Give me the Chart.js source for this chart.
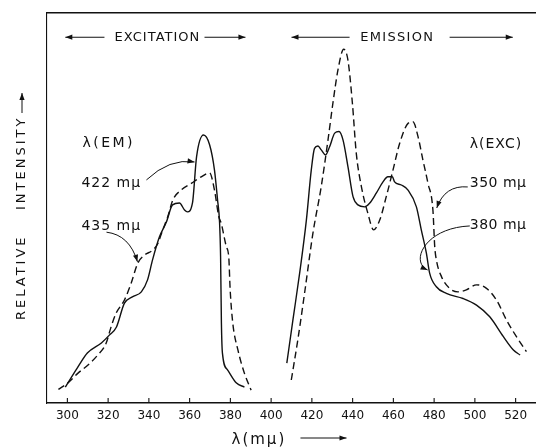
<!DOCTYPE html>
<html>
<head>
<meta charset="utf-8">
<script src="https://cdn.jsdelivr.net/npm/chart.js@4"></script>
<style>
  body { margin: 0; background: #fff; }
</style>
</head>
<body>
<canvas id="spectra" width="536" height="447"></canvas>
<script>
// wavelength axis (mµ)
const xTicks = [300, 320, 340, 360, 380, 400, 420, 440, 460, 480, 500, 520];

// excitation spectra, λ(EM) = 422 mµ (solid) and 435 mµ (dashed)
const excSolidX = [299.0, 304.9, 309.8, 316.7, 320.6, 324.1, 328.0, 331.9, 336.3, 339.3, 341.8, 345.2, 348.6, 351.6, 355.0, 357.5, 358.9, 361.4, 363.4, 366.8, 369.8, 372.2, 373.7, 374.7, 375.2, 375.6, 376.1, 378.6, 383.0, 386.9];
const excSolidY = [4.1, 9.0, 12.8, 15.4, 17.4, 19.5, 25.6, 27.2, 28.5, 31.5, 36.7, 42.6, 46.4, 50.8, 51.3, 49.5, 49.0, 51.3, 63.1, 68.7, 66.2, 59.7, 52.1, 46.2, 37.4, 20.5, 12.8, 8.5, 5.1, 4.1];
const excDashX = [295.6, 300.1, 305.1, 310.0, 314.9, 319.0, 321.5, 323.9, 328.0, 331.3, 334.5, 337.8, 341.9, 344.4, 346.8, 349.3, 351.7, 355.8, 360.8, 365.7, 369.8, 372.2, 374.3, 375.5, 378.0, 379.2, 379.9, 381.2, 383.7, 386.9, 390.2];
const excDashY = [3.5, 5.1, 7.6, 9.7, 12.3, 15.3, 19.6, 23.0, 26.4, 30.7, 35.8, 37.9, 39.2, 40.9, 44.4, 47.8, 52.0, 54.6, 56.3, 58.0, 59.0, 54.6, 47.8, 46.1, 40.1, 37.5, 29.0, 20.4, 13.6, 7.6, 3.3];

// emission spectra, λ(EXC) = 380 mµ (solid) and 350 mµ (dashed)
const emSolidX = [407.7, 410.7, 414.0, 417.3, 419.7, 421.3, 423.0, 424.6, 426.7, 428.7, 431.2, 433.3, 435.3, 437.7, 440.2, 442.6, 445.9, 448.3, 451.6, 454.9, 457.3, 459.5, 460.6, 463.9, 467.2, 471.3, 473.7, 476.2, 477.8, 481.1, 486.0, 494.2, 500.8, 507.3, 514.0, 518.9, 522.2];
const emSolidY = [10.2, 21.3, 33.3, 46.9, 59.7, 65.3, 65.9, 64.9, 63.6, 65.7, 69.2, 69.6, 67.4, 60.6, 52.9, 50.8, 50.3, 51.2, 53.8, 56.7, 58.0, 58.0, 56.7, 55.9, 54.6, 50.3, 44.4, 38.4, 33.3, 29.8, 28.1, 26.8, 25.1, 22.1, 17.0, 13.6, 12.3];
const emDashX = [409.9, 413.1, 416.4, 420.5, 424.6, 427.9, 430.3, 432.8, 435.6, 437.7, 439.9, 441.8, 444.3, 447.5, 450.3, 453.3, 456.5, 459.8, 463.1, 467.2, 469.6, 472.1, 474.5, 477.0, 479.4, 480.3, 481.1, 483.6, 487.6, 491.7, 495.8, 500.8, 505.7, 510.6, 515.5, 520.4, 525.3];
const emDashY = [5.9, 16.2, 28.1, 43.5, 55.5, 67.4, 76.8, 85.4, 90.7, 87.9, 76.8, 64.0, 55.5, 48.6, 44.4, 46.9, 52.9, 59.7, 66.6, 71.7, 72.1, 68.3, 62.3, 56.3, 49.5, 40.1, 36.7, 32.4, 29.4, 28.5, 29.0, 30.3, 29.4, 26.4, 21.3, 17.0, 13.2];

const INK = '#111';
const FONT = '"DejaVu Sans", sans-serif';

const pairs = (xs, ys) => xs.map((x, i) => ({ x: x, y: ys[i] }));

function trace(label, xs, ys, dashed) {
    return {
        label: label,
        data: pairs(xs, ys),
        borderColor: INK,
        borderWidth: 1.4,
        borderDash: dashed ? [7, 4] : [],
        pointRadius: 0,
        fill: false,
        cubicInterpolationMode: 'monotone'
    };
}

function head(ctx, x, y, ang, len, half) {
    ctx.beginPath();
    ctx.moveTo(x, y);
    ctx.lineTo(x - len * Math.cos(ang) - half * Math.sin(ang), y - len * Math.sin(ang) + half * Math.cos(ang));
    ctx.lineTo(x - len * Math.cos(ang) + half * Math.sin(ang), y - len * Math.sin(ang) - half * Math.cos(ang));
    ctx.closePath();
    ctx.fill();
}

function arrow(ctx, x1, y1, x2, y2) {
    ctx.beginPath();
    ctx.moveTo(x1, y1);
    ctx.lineTo(x2, y2);
    ctx.stroke();
    head(ctx, x2, y2, Math.atan2(y2 - y1, x2 - x1), 7, 2.6);
}

function text(ctx, s, x, y, size, spacing, align) {
    ctx.font = size + 'px ' + FONT;
    ctx.letterSpacing = spacing + 'px';
    ctx.textAlign = align || 'left';
    ctx.textBaseline = 'middle';
    ctx.fillText(s, x, y);
}

// inward ticks, headings, callouts and axis titles
const decorations = {
    id: 'decorations',
    afterDraw(chart) {
        const ctx = chart.ctx;
        const area = chart.chartArea;
        const px = v => chart.scales.x.getPixelForValue(v);
        const py = v => chart.scales.y.getPixelForValue(v);
        ctx.save();
        ctx.strokeStyle = INK;
        ctx.fillStyle = INK;
        ctx.lineWidth = 1.1;

        xTicks.forEach(t => {
            ctx.beginPath();
            ctx.moveTo(px(t), area.bottom);
            ctx.lineTo(px(t), area.bottom - 5);
            ctx.stroke();
        });

        // section headings
        const hy = py(93.8);
        text(ctx, 'EXCITATION', px(344.2), hy, 13, 1, 'center');
        arrow(ctx, px(318.2), hy, px(299.0), hy);
        arrow(ctx, px(367.3), hy, px(387.4), hy);
        text(ctx, 'EMISSION', px(461.9), hy, 13, 1.3, 'center');
        arrow(ctx, px(438.5), hy, px(410.0), hy);
        arrow(ctx, px(487.6), hy, px(518.6), hy);

        // left callouts
        text(ctx, 'λ(EM)', px(307.4), py(66.7), 14, 2.5);
        text(ctx, '422 mµ', px(306.9), py(56.4), 14, 1);
        text(ctx, '435 mµ', px(306.9), py(45.4), 14, 1);
        // right callouts
        text(ctx, 'λ(EXC)', px(497.5), py(66.2), 14, 1);
        text(ctx, '350 mµ', px(497.5), py(56.4), 14, 0.5);
        text(ctx, '380 mµ', px(497.5), py(45.6), 14, 0.5);

        ctx.lineWidth = 1;
        // 422 -> solid excitation peak
        let c = [px(350.1), py(62.8)], e = [px(362.4), py(61.8)];
        ctx.beginPath();
        ctx.moveTo(px(338.8), py(57.2));
        ctx.quadraticCurveTo(c[0], c[1], e[0], e[1]);
        ctx.stroke();
        head(ctx, e[0], e[1], Math.atan2(e[1] - c[1], e[0] - c[0]), 7, 2.6);
        // 435 -> dashed excitation
        c = [px(330.5), py(43.1)]; e = [px(334.4), py(36.2)];
        ctx.beginPath();
        ctx.moveTo(px(319.2), py(43.8));
        ctx.quadraticCurveTo(c[0], c[1], e[0], e[1]);
        ctx.stroke();
        head(ctx, e[0], e[1], Math.atan2(e[1] - c[1], e[0] - c[0]), 7, 2.6);
        // 350 -> dashed emission
        c = [px(485.2), py(55.9)]; e = [px(481.3), py(50.0)];
        ctx.beginPath();
        ctx.moveTo(px(496.5), py(55.4));
        ctx.quadraticCurveTo(c[0], c[1], e[0], e[1]);
        ctx.stroke();
        head(ctx, e[0], e[1], Math.atan2(e[1] - c[1], e[0] - c[0]), 7, 2.6);
        // 380 -> solid emission, looping
        c = [px(468.0), py(36.2)]; e = [px(476.8), py(34.1)];
        ctx.beginPath();
        ctx.moveTo(px(497.5), py(45.4));
        ctx.bezierCurveTo(px(475.4), py(44.9), c[0], c[1], e[0], e[1]);
        ctx.stroke();
        head(ctx, e[0], e[1], Math.atan2(e[1] - c[1], e[0] - c[0]), 7, 2.6);

        // y title, rotated
        ctx.save();
        ctx.translate(area.left - 25, 0);
        ctx.rotate(-Math.PI / 2);
        text(ctx, 'RELATIVE', -320, 0, 13, 3);
        text(ctx, 'INTENSITY', -210, 0, 13, 3);
        ctx.restore();
        arrow(ctx, area.left - 25, 113, area.left - 25, 93);

        // x title
        const ty = area.bottom + 37;
        text(ctx, 'λ(mµ)', px(394.0), ty, 15, 2, 'center');
        arrow(ctx, px(414.4), ty - 2, px(437.0), ty - 2);
        ctx.restore();
    }
};

Chart.defaults.font.family = FONT;
Chart.defaults.color = INK;

new Chart(document.getElementById('spectra'), {
    type: 'line',
    data: {
        datasets: [
            trace('422 mµ', excSolidX, excSolidY, false),
            trace('435 mµ', excDashX, excDashY, true),
            trace('380 mµ', emSolidX, emSolidY, false),
            trace('350 mµ', emDashX, emDashY, true)
        ]
    },
    options: {
        responsive: false,
        devicePixelRatio: 1,
        animation: false,
        layout: { padding: { top: 13, right: 0, left: 0, bottom: 0 } },
        plugins: {
            legend: { display: false },
            tooltip: { enabled: false }
        },
        scales: {
            x: {
                type: 'linear',
                position: 'bottom',
                min: 290,
                max: 530,
                afterBuildTicks: s => { s.ticks = xTicks.map(v => ({ value: v })); },
                afterFit: s => { s.height = 44; },
                ticks: { color: INK, font: { size: 12 }, padding: 6, maxRotation: 0 },
                grid: { display: false, drawTicks: false },
                border: { display: true, color: INK, width: 1.4 }
            },
            top: {
                type: 'linear',
                position: 'top',
                min: 290,
                max: 530,
                afterFit: s => { s.height = 0; },
                ticks: { display: false },
                grid: { display: false, drawTicks: false },
                border: { display: true, color: INK, width: 1.4 }
            },
            y: {
                min: 0,
                max: 100,
                afterFit: s => { s.width = 47; },
                ticks: { display: false },
                grid: { display: false, drawTicks: false },
                border: { display: true, color: INK, width: 1.1 }
            }
        }
    },
    plugins: [decorations]
});
</script>
</body>
</html>
